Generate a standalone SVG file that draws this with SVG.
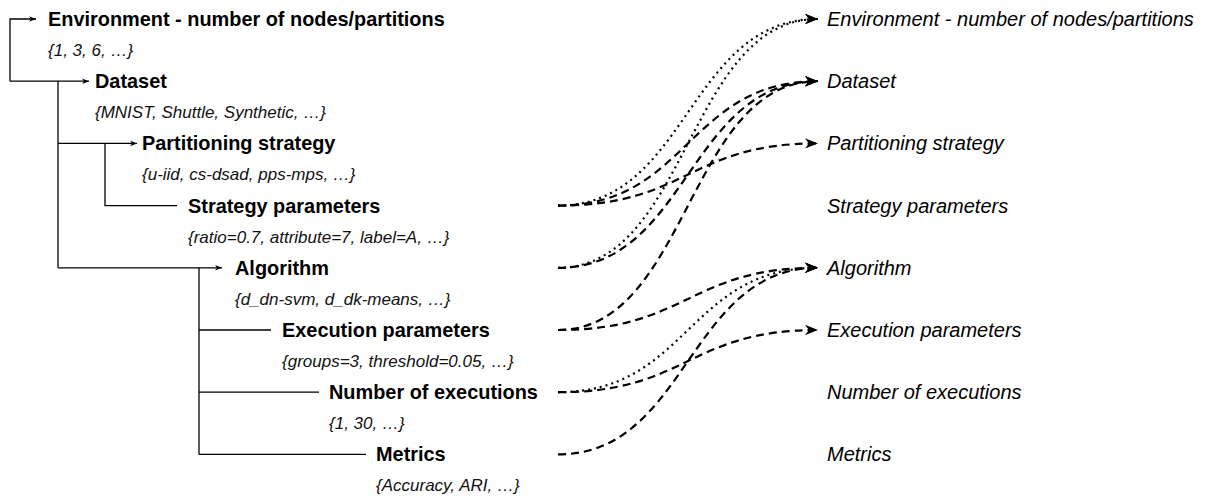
<svg xmlns="http://www.w3.org/2000/svg" width="1206" height="497" viewBox="0 0 1206 497">
  <defs>
    <style>
      .title { font-family: "Liberation Sans", Arial, sans-serif; font-weight: bold; font-size: 19.9px; fill: #000; }
      .values { font-family: "Liberation Sans", Arial, sans-serif; font-style: italic; font-size: 17px; fill: #111; }
      .target { font-family: "Liberation Sans", Arial, sans-serif; font-style: italic; font-size: 20px; fill: #000; }
      .tree { fill: none; stroke: #000; stroke-width: 1.3; }
      .dep { fill: none; stroke: #000; stroke-width: 2.2; }
      .dashed { stroke-dasharray: 8 5; }
      .dotted { stroke-dasharray: 2 4; }
    </style>
    <marker id="tip-small" viewBox="0 0 10 10" refX="10" refY="5" markerWidth="7" markerHeight="7" markerUnits="userSpaceOnUse" orient="auto">
      <path d="M0,1 L10,5 L0,9 L3,5 Z" fill="#000"/>
    </marker>
    <marker id="tip" viewBox="0 0 10 10" refX="10" refY="5" markerWidth="13" markerHeight="13" markerUnits="userSpaceOnUse" orient="auto">
      <path d="M0,1 L10,5 L0,9 L3,5 Z" fill="#000"/>
    </marker>
  </defs>

  <rect width="1206" height="497" fill="#fff"/>

  <!-- hierarchy lines on the left -->
  <g id="tree">
    <path class="tree" d="M10 81.2 V19 H36" marker-end="url(#tip-small)"/>
    <path class="tree" d="M10 81.2 H89" marker-end="url(#tip-small)"/>
    <path class="tree" d="M58 81.2 V267.8"/>
    <path class="tree" d="M58 143.4 H137" marker-end="url(#tip-small)"/>
    <path class="tree" d="M105 143.4 V205.6 H177"/>
    <path class="tree" d="M58 267.8 H222" marker-end="url(#tip-small)"/>
    <path class="tree" d="M199 267.8 V454.4"/>
    <path class="tree" d="M199 330 H271"/>
    <path class="tree" d="M199 392.2 H319"/>
    <path class="tree" d="M199 454.4 H366"/>
  </g>

  <!-- parameters -->
  <g id="node-environment">
    <text class="title" x="48" y="26">Environment - number of nodes/partitions</text>
    <text class="values" x="48" y="56">{1, 3, 6, …}</text>
  </g>
  <g id="node-dataset">
    <text class="title" x="95" y="88.2">Dataset</text>
    <text class="values" x="95" y="118.2">{MNIST, Shuttle, Synthetic, …}</text>
  </g>
  <g id="node-partitioning">
    <text class="title" x="142" y="150.4">Partitioning strategy</text>
    <text class="values" x="142" y="180.4">{u-iid, cs-dsad, pps-mps, …}</text>
  </g>
  <g id="node-strategy-parameters">
    <text class="title" x="188" y="212.6">Strategy parameters</text>
    <text class="values" x="188" y="242.6">{ratio=0.7, attribute=7, label=A, …}</text>
  </g>
  <g id="node-algorithm">
    <text class="title" x="235" y="274.8">Algorithm</text>
    <text class="values" x="235" y="304.8">{d_dn-svm, d_dk-means, …}</text>
  </g>
  <g id="node-execution-parameters">
    <text class="title" x="282" y="337">Execution parameters</text>
    <text class="values" x="282" y="367">{groups=3, threshold=0.05, …}</text>
  </g>
  <g id="node-executions">
    <text class="title" x="329" y="399.2">Number of executions</text>
    <text class="values" x="329" y="429.2">{1, 30, …}</text>
  </g>
  <g id="node-metrics">
    <text class="title" x="376" y="461.4">Metrics</text>
    <text class="values" x="376" y="491.4">{Accuracy, ARI, …}</text>
  </g>

  <!-- dependency targets on the right -->
  <g id="dep-environment"><text class="target" x="827" y="26">Environment - number of nodes/partitions</text></g>
  <g id="dep-dataset"><text class="target" x="827" y="88.2">Dataset</text></g>
  <g id="dep-partitioning"><text class="target" x="827" y="150.4">Partitioning strategy</text></g>
  <g id="dep-strategy-parameters"><text class="target" x="827" y="212.6">Strategy parameters</text></g>
  <g id="dep-algorithm"><text class="target" x="827" y="274.8">Algorithm</text></g>
  <g id="dep-execution-parameters"><text class="target" x="827" y="337">Execution parameters</text></g>
  <g id="dep-executions"><text class="target" x="827" y="399.2">Number of executions</text></g>
  <g id="dep-metrics"><text class="target" x="827" y="461.4">Metrics</text></g>

  <!-- dependencies -->
  <g id="connectors">
    <path class="dep dotted" d="M558 205.6 C688 205.6 688 19 818 19" marker-end="url(#tip)"/>
    <path class="dep dashed" d="M558 205.6 C688 205.6 688 81.2 818 81.2" marker-end="url(#tip)"/>
    <path class="dep dashed" d="M558 205.6 C688 205.6 688 143.4 818 143.4" marker-end="url(#tip)"/>
    <path class="dep dotted" d="M558 267.8 C688 267.8 688 19 818 19" marker-end="url(#tip)"/>
    <path class="dep dashed" d="M558 267.8 C688 267.8 688 81.2 818 81.2" marker-end="url(#tip)"/>
    <path class="dep dashed" d="M558 330 C688 330 688 81.2 818 81.2" marker-end="url(#tip)"/>
    <path class="dep dashed" d="M558 330 C688 330 688 267.8 818 267.8" marker-end="url(#tip)"/>
    <path class="dep dotted" d="M558 392.2 C688 392.2 688 267.8 818 267.8" marker-end="url(#tip)"/>
    <path class="dep dashed" d="M558 392.2 C688 392.2 688 330 818 330" marker-end="url(#tip)"/>
    <path class="dep dashed" d="M558 454.4 C688 454.4 688 267.8 818 267.8" marker-end="url(#tip)"/>
  </g>
</svg>
